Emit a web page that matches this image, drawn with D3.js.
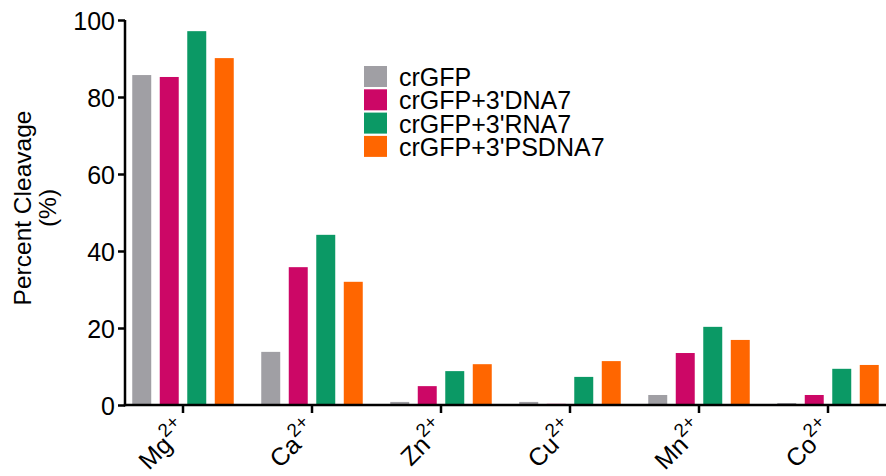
<!DOCTYPE html>
<html><head><meta charset="utf-8">
<script src="https://cdn.jsdelivr.net/npm/d3@7"></script>
<style>body{margin:0;background:#fff}svg{display:block}text{font-family:"Liberation Sans",Arial,sans-serif;fill:#000}</style>
</head><body>
<script>
const categories = ["Mg", "Ca", "Zn", "Cu", "Mn", "Co"];
const charges = ["2+", "2+", "2+", "2+", "2+", "2+"];
const seriesNames = ["crGFP", "crGFP+3'DNA7", "crGFP+3'RNA7", "crGFP+3'PSDNA7"];
const crGFP = [85.7, 13.8, 0.8, 0.8, 2.6, 0.5];
const dna7 = [85.2, 35.8, 4.9, 0.3, 13.5, 2.6];
const rna7 = [97.1, 44.2, 8.8, 7.3, 20.3, 9.4];
const psdna7 = [90.1, 32.0, 10.6, 11.4, 16.9, 10.4];
const yTicks = [0, 20, 40, 60, 80, 100];
const colors = ["#a09fa4", "#cc0766", "#0b9965", "#ff6600"];

const seriesValues = [crGFP, dna7, rna7, psdna7];
const W = 886, H = 476;
const svg = d3.select("body").append("svg").attr("width", W).attr("height", H);

const x = d3.scaleBand().domain(categories).range([118.5, 892.5]).padding(0);
const xi = d3.scaleBand().domain(seriesNames).range([-50.75, 50.75]).paddingInner(0.31).paddingOuter(0);
const y = d3.scaleLinear().domain([0, 100]).range([405, 20]);

// bars
seriesNames.forEach((s, si) => {
  svg.append("g").selectAll("rect").data(categories).join("rect")
    .attr("x", c => x(c) + x.bandwidth() / 2 + xi(s))
    .attr("width", xi.bandwidth())
    .attr("y", (c, i) => y(seriesValues[si][i]))
    .attr("height", (c, i) => y(0) - y(seriesValues[si][i]))
    .attr("fill", colors[si]);
});

// y axis
const yAxis = svg.append("g").attr("transform", "translate(125,0)")
  .call(d3.axisLeft(y).tickValues(yTicks).tickSize(7).tickPadding(3).tickSizeOuter(0));
yAxis.select(".domain").attr("stroke", "#000").attr("stroke-width", 2.5).attr("d", `M0,${y(0)+1.25}V${y(100)}`);
yAxis.selectAll(".tick line").attr("stroke", "#000").attr("stroke-width", 2.5);
yAxis.selectAll(".tick text").attr("font-size", 25).attr("dy", "0.36em").attr("fill", "#000");

// x axis
const xAxis = svg.append("g").attr("transform", `translate(0,${y(0)})`)
  .call(d3.axisBottom(x).tickSize(8).tickSizeOuter(0).tickFormat(""));
xAxis.select(".domain").attr("stroke", "#000").attr("stroke-width", 2.5).attr("d", "M123.75,0H886");
xAxis.selectAll(".tick line").attr("stroke", "#000").attr("stroke-width", 2.5);

// x labels
categories.forEach((c, i) => {
  const cx = x(c) + x.bandwidth() / 2;
  const t = svg.append("text")
    .attr("transform", `translate(${cx + 6},${y(0) + 26}) rotate(-45)`)
    .attr("text-anchor", "end")
    .attr("font-size", 25);
  t.append("tspan").text(c);
  t.append("tspan").attr("dy", "-0.6em").attr("font-size", 19).text(charges[i]);
});

// y title
const yt = svg.append("text").attr("transform", "translate(0,208) rotate(-90)")
  .attr("text-anchor", "middle").attr("font-size", 24.5);
yt.append("tspan").attr("x", 0).attr("y", 31).text("Percent Cleavage");
yt.append("tspan").attr("x", 0).attr("y", 56).text("(%)");

// legend
const lg = svg.append("g").attr("transform", "translate(364,66)");
seriesNames.forEach((s, i) => {
  lg.append("rect").attr("x", 0).attr("y", i * 23.3).attr("width", 23).attr("height", 21).attr("fill", colors[i]);
  lg.append("text").attr("x", 35).attr("y", i * 23.3 + 20).attr("font-size", 25).text(s);
});
</script>
</body></html>
